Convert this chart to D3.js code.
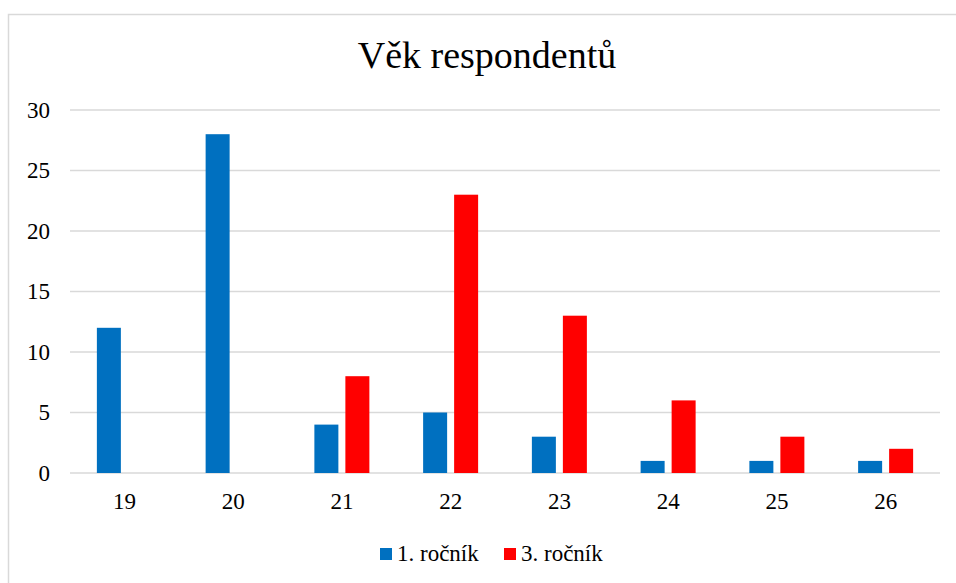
<!DOCTYPE html>
<html>
<head>
<meta charset="utf-8">
<script src="https://cdn.jsdelivr.net/npm/d3@7"></script>
<style>
  body { margin: 0; background: #fff; }
  svg text { font-family: "Liberation Serif", "Times New Roman", serif !important; fill: #000; }
</style>
</head>
<body>
<script>
const ages = ['19', '20', '21', '22', '23', '24', '25', '26']
const series = ['1. ročník', '3. ročník']
const rocnik1 = [12, 28, 4, 5, 3, 1, 1, 1]
const rocnik3 = [0, 0, 8, 23, 13, 6, 3, 2]
const yTicks = [0, 5, 10, 15, 20, 25, 30]
const colors = ['#0070C0', '#FF0000']

const serif = '"Liberation Serif", "Times New Roman", serif'
const m = { width: 956, height: 583, left: 70, right: 940, top: 110, bottom: 473 }

const svg = d3.select('body').append('svg')
    .attr('width', m.width)
    .attr('height', m.height)
    .attr('font-family', serif)

// chart border
svg.append('path')
    .attr('d', 'M8.5,600 V14.5 H960')
    .attr('fill', 'none')
    .attr('stroke', '#d9d9d9')
    .attr('stroke-width', 1.5)

svg.append('text')
    .attr('x', 487)
    .attr('y', 68)
    .attr('text-anchor', 'middle')
    .style('font-size', '38px')
    .text('Věk respondentů')

const x = d3.scaleBand()
    .domain(ages)
    .range([m.left, m.right])
    .paddingInner(1 - 55 / 108.75)
    .paddingOuter((1 - 55 / 108.75) / 2)

const xSub = d3.scaleBand()
    .domain(series)
    .range([0, x.bandwidth()])
    .paddingInner(7 / 31)

const y = d3.scaleLinear()
    .domain([0, 30])
    .range([m.bottom, m.top])

// gridlines
svg.append('g')
    .selectAll('line')
    .data(yTicks)
    .enter()
    .append('line')
        .attr('x1', m.left)
        .attr('x2', m.right)
        .attr('y1', d => y(d))
        .attr('y2', d => y(d))
        .attr('stroke', '#d9d9d9')
        .attr('stroke-width', 1.5)

// y labels
svg.append('g')
    .selectAll('text')
    .data(yTicks)
    .enter()
    .append('text')
        .attr('x', 50)
        .attr('y', d => y(d))
        .attr('dy', '0.33em')
        .attr('text-anchor', 'end')
        .style('font-size', '23px')
        .text(d => d)

// x labels
const xAxis = d3.axisBottom(x).tickSize(0).tickPadding(0)
const gx = svg.append('g')
    .attr('transform', `translate(0,${m.bottom})`)
    .call(xAxis)
    .attr('font-family', serif)
gx.select('.domain').remove()
gx.selectAll('text')
    .attr('y', 36)
    .attr('dy', 0)
    .style('font-size', '23px')
    .attr('fill', '#000')

const rows = ages.map((a, i) => ({ age: a, values: [rocnik1[i], rocnik3[i]] }))

const groups = svg.append('g')
    .selectAll('g')
    .data(rows)
    .enter()
    .append('g')
        .attr('transform', d => `translate(${x(d.age)},0)`)

groups.selectAll('rect')
    .data(d => d.values.map((v, i) => ({ s: series[i], v: v, c: colors[i] })))
    .enter()
    .filter(d => d.v > 0)
    .append('rect')
        .attr('x', d => xSub(d.s))
        .attr('width', xSub.bandwidth())
        .attr('y', d => y(d.v))
        .attr('height', d => y(0) - y(d.v))
        .attr('fill', d => d.c)

// legend
const legendX = [380, 504]
const legend = svg.append('g')
    .selectAll('g')
    .data(series)
    .enter()
    .append('g')
        .attr('transform', (d, i) => `translate(${legendX[i]},548)`)

legend.append('rect')
    .attr('width', 12)
    .attr('height', 12)
    .attr('fill', (d, i) => colors[i])

legend.append('text')
    .attr('x', 17)
    .attr('y', 13)
    .style('font-size', '23px')
    .text(d => d)
</script>
</body>
</html>
